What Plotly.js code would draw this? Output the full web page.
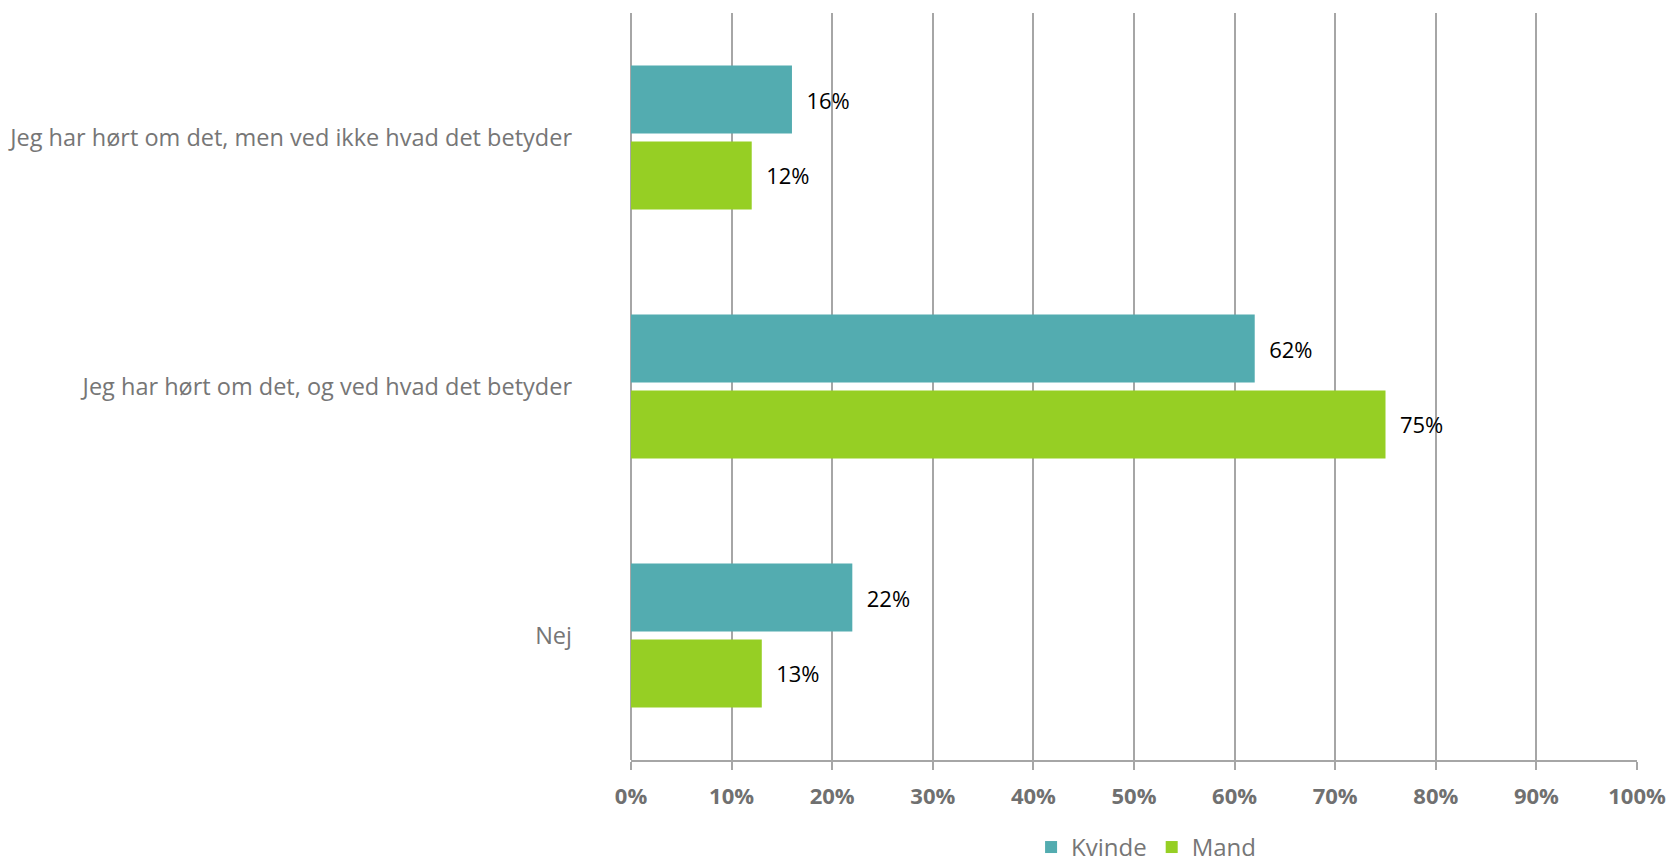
<!DOCTYPE html>
<html>
<head>
<meta charset="utf-8">
<script src="https://cdn.plot.ly/plotly-3.0.1.min.js"></script>
<style>
  html, body { margin: 0; padding: 0; background: #fff; }
  #chart { width: 1671px; height: 862px; }
</style>
</head>
<body>
<div id="chart"></div>
<script>
  var CATEGORIES = [
    'Jeg har hørt om det, men ved ikke hvad det betyder',
    'Jeg har hørt om det, og ved hvad det betyder',
    'Nej'
  ];
  var KVINDE = [16, 62, 22];
  var MAND = [12, 75, 13];
  var X_TICKS = [0, 10, 20, 30, 40, 50, 60, 70, 80, 90, 100];
  var X_LABELS = X_TICKS.map(function(v){ return v + '%'; });

  var GRID = '#a6a6a6';
  var FONT = '"Open Sans", "DejaVu Sans", sans-serif';

  function barTrace(name, values, color) {
    return {
      type: 'bar', orientation: 'h', name: name,
      x: values, y: CATEGORIES,
      marker: {color: color},
      text: values.map(function(v){ return '\u00a0\u00a0' + v + '%'; }),
      textposition: 'outside', cliponaxis: false,
      textfont: {family: FONT, size: 22, color: '#000'},
      hoverinfo: 'x+name'
    };
  }

  var traces = [
    barTrace('Kvinde', KVINDE, '#53acb0'),
    barTrace('Mand', MAND, '#96cf24')
  ];

  var layout = {
    barmode: 'group', bargap: 0.39, bargroupgap: 0.105,
    margin: {l: 631, r: 34, t: 13, b: 102, autoexpand: false},
    font: {family: FONT},
    xaxis: {
      range: [0, 100], tickvals: X_TICKS, ticktext: X_LABELS,
      showgrid: true, gridcolor: GRID, gridwidth: 1.5,
      zeroline: true, zerolinecolor: GRID, zerolinewidth: 1.5,
      showline: true, linecolor: GRID, linewidth: 1.5,
      ticks: 'outside', ticklen: 8, tickcolor: GRID, tickwidth: 1.5,
      ticklabelstandoff: 8,
      tickfont: {family: FONT, size: 22, color: '#707070', weight: 'bold'}
    },
    yaxis: {
      autorange: 'reversed', showgrid: false, zeroline: false,
      ticks: '', ticklabelstandoff: 58,
      tickfont: {family: FONT, size: 23.5, color: '#767676'}
    },
    legend: {
      orientation: 'h', x: 0.512, xanchor: 'center',
      yref: 'container', y: 0.043, yanchor: 'top',
      font: {family: FONT, size: 24, color: '#767676'},
      itemwidth: 30, traceorder: 'normal'
    },
    paper_bgcolor: '#fff', plot_bgcolor: '#fff'
  };

  Plotly.newPlot('chart', traces, layout, {displayModeBar: false});
</script>
</body>
</html>
